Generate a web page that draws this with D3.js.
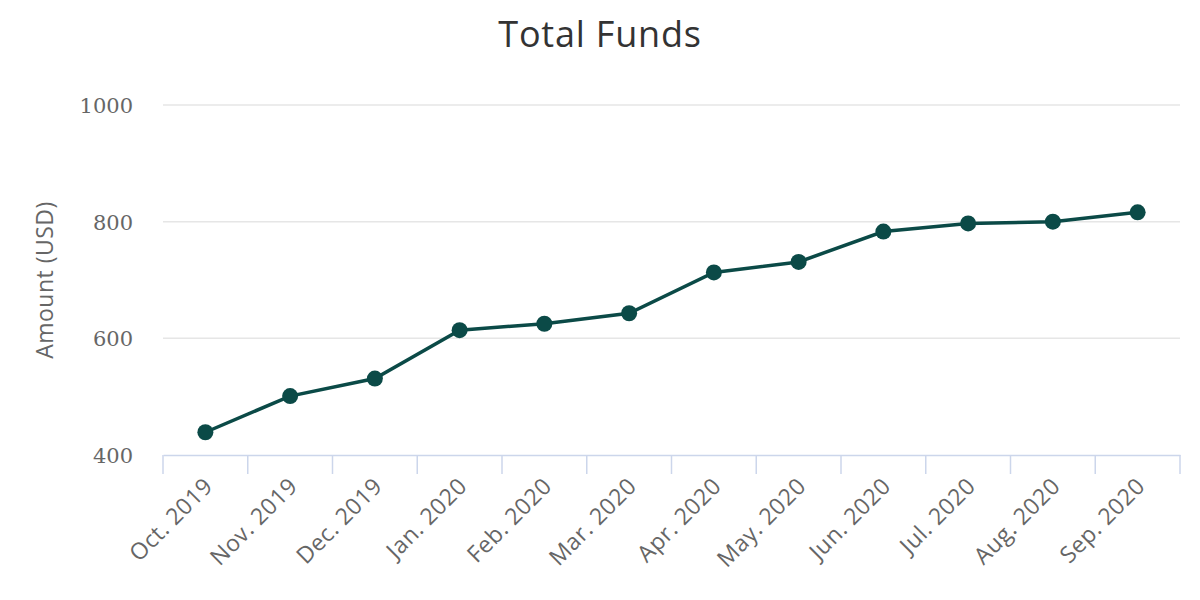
<!DOCTYPE html>
<html><head><meta charset="utf-8">
<script src="https://cdn.jsdelivr.net/npm/d3@7"></script>
<style>body{margin:0;background:#fff}svg{display:block}</style>
</head><body>
<svg id="chart" width="1200" height="600"></svg>
<script>
const categories = ["Oct. 2019","Nov. 2019","Dec. 2019","Jan. 2020","Feb. 2020","Mar. 2020","Apr. 2020","May. 2020","Jun. 2020","Jul. 2020","Aug. 2020","Sep. 2020"];
const values = [439, 501, 531, 614, 625, 643, 713, 731, 783, 797, 800, 816];
const yTicks = [400, 600, 800, 1000];
const titleText = "Total Funds";
const yTitle = "Amount (USD)";

const svg = d3.select("#chart");
const m = {left:163, right:1180, top:105, bottom:455};
const x = d3.scaleBand().domain(categories).range([m.left, m.right]);
const y = d3.scaleLinear().domain([400, 1000]).range([m.bottom, m.top]);

svg.append("text").attr("x", 600).attr("y", 47).attr("text-anchor","middle")
  .style("font-family","'Open Sans', sans-serif").style("font-size","36px").style("letter-spacing","0.8px").attr("fill","#333").text(titleText);

// grid
const grid = svg.append("g");
grid.selectAll("line").data(yTicks.filter(d=>d>400)).join("line")
  .attr("x1", m.left).attr("x2", m.right).attr("y1", d=>y(d)).attr("y2", d=>y(d))
  .attr("stroke","#e6e6e6").attr("stroke-width",1.5);

// y axis labels
const yAxis = svg.append("g").attr("transform",`translate(${m.left},0)`)
  .call(d3.axisLeft(y).tickValues(yTicks).tickFormat(d3.format("d")).tickSize(0).tickPadding(30));
yAxis.select(".domain").remove();
yAxis.selectAll("text").style("font-family","'DejaVu Serif', serif").style("font-size","21px").attr("fill","#666").attr("dy","0.35em");

svg.append("text").attr("transform",`translate(53,280) rotate(-90)`).attr("text-anchor","middle")
  .style("font-family","'Open Sans', sans-serif").style("font-size","23px").style("letter-spacing","0.5px").attr("fill","#666").text(yTitle);

// x axis
const xAxis = svg.append("g").attr("transform",`translate(0,${m.bottom})`)
  .call(d3.axisBottom(x).tickSize(0).tickFormat(""));
xAxis.select(".domain").attr("stroke","#ccd6eb").attr("stroke-width",1.5);
const edges = categories.map(c=>x(c)).concat([m.right]);
xAxis.selectAll("line.edge").data(edges).join("line").attr("class","edge")
  .attr("x1",d=>d).attr("x2",d=>d).attr("y1",0).attr("y2",19).attr("stroke","#ccd6eb").attr("stroke-width",1.5);
xAxis.selectAll("text.lbl").data(categories).join("text").attr("class","lbl")
  .attr("transform", d=>`translate(${x(d)+x.bandwidth()/2+3},${27}) rotate(-45)`)
  .attr("text-anchor","end").attr("dy","0.35em")
  .style("font-family","'Open Sans', sans-serif").style("font-size","23px").style("letter-spacing","0.5px").attr("fill","#666").text(d=>d);

// line
const cx = d => x(d)+x.bandwidth()/2;
const line = d3.line().x((d,i)=>cx(categories[i])).y(d=>y(d));
svg.append("path").datum(values).attr("d", line).attr("fill","none").attr("stroke","#0b4a47").attr("stroke-width",3.5);
svg.selectAll("circle.pt").data(values).join("circle").attr("class","pt")
  .attr("cx",(d,i)=>cx(categories[i])).attr("cy",d=>y(d)).attr("r",8).attr("fill","#0b4a47");
</script>
</body></html>
